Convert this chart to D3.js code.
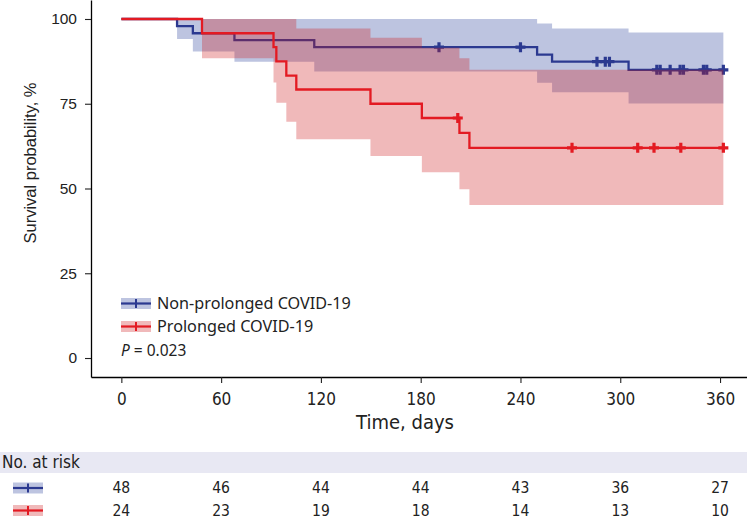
<!DOCTYPE html>
<html><head><meta charset="utf-8">
<script src="https://cdn.jsdelivr.net/npm/d3@7"></script>
<style>body{margin:0;background:#fff}</style>
</head><body><svg id="c" width="747" height="519"></svg>
<script>
// ---- data ----
const groupNames = ["Non-prolonged COVID-19", "Prolonged COVID-19"];
// Non-prolonged: step times, survival (%), CI
const nonTimes = [0, 33.5, 43, 68, 116, 250, 259, 305];
const nonSurv  = [100, 97.9, 95.8, 93.75, 91.7, 89.5, 87.4, 85.0];
const nonUpper = [100, 100, 100, 100, 100, 98.7, 97.2, 96.0];
const nonLower = [100, 94.1, 90.4, 87.4, 84.5, 81.2, 78.4, 75.1];
const nonEnd = 362;
const nonCensor = [191, 240, 286, 291, 293.5, 322, 324, 330, 336, 338, 350, 352, 362];
// Prolonged
const proTimes = [0, 48.5, 91.5, 93.2, 99.2, 105.2, 149.8, 180.7, 203.3, 209.3];
const proSurv  = [100, 95.8, 91.7, 87.5, 83.3, 79.2, 75.0, 70.8, 66.4, 62.0];
const proUpper = [100, 100, 100, 100, 100, 97.2, 94.5, 91.5, 88.4, 85.0];
const proLower = [100, 88.4, 81.3, 75.3, 69.7, 64.5, 59.6, 54.8, 49.8, 45.1];
const proEnd = 362;
const proCensor = [202.3, 271, 310.5, 320.3, 336.4, 362];
// Axes / risk table
const xTicks = [0, 60, 120, 180, 240, 300, 360];
const yTicks = [0, 25, 50, 75, 100];
const riskNon = [48, 46, 44, 44, 43, 36, 27];
const riskPro = [24, 23, 19, 18, 14, 13, 10];
const pText = "0.023";

// ---- styles ----
const blueLine = "#2b3990", redLine = "#e31a22";
const blueFill = "#263a98", redFill = "#cd1619", fillOp = 0.3;
const narrow = "'Liberation Sans Narrow','DejaVu Sans Condensed','Roboto',sans-serif";
const sans = "'Liberation Sans',Arial,sans-serif";
const noto = "'Noto Sans','Open Sans',sans-serif";

const svg = d3.select("#c");
const x = d3.scaleLinear().domain([-18.25, 383.25]).range([91, 758.7]);
const y = d3.scaleLinear().domain([-5.6, 105.6]).range([377, 0]);

function build(times, surv, lo, hi, end) {
  const pts = times.map((t, i) => ({t, s: surv[i], lo: lo[i], hi: hi[i]}));
  const last = pts[pts.length - 1];
  pts.push({t: end, s: last.s, lo: last.lo, hi: last.hi});
  return pts;
}
function survAt(times, surv, t) {
  let s = surv[0];
  times.forEach((tt, i) => { if (tt <= t) s = surv[i]; });
  return s;
}
const area = d3.area().curve(d3.curveStepAfter).x(d => x(d.t)).y0(d => y(d.lo)).y1(d => y(d.hi));
const line = d3.line().curve(d3.curveStepAfter).x(d => x(d.t)).y(d => y(d.s));
const plus = "M-5,0H5M0,-5V5";

const series = [
  {pts: build(nonTimes, nonSurv, nonLower, nonUpper, nonEnd), fill: blueFill, col: blueLine,
   cens: nonCensor.map(t => ({t, s: survAt(nonTimes, nonSurv, t)}))},
  {pts: build(proTimes, proSurv, proLower, proUpper, proEnd), fill: redFill, col: redLine,
   cens: proCensor.map(t => ({t, s: survAt(proTimes, proSurv, t)}))}
];

series.forEach(sr => {
  svg.append("path").attr("d", area(sr.pts)).attr("fill", sr.fill).attr("fill-opacity", fillOp);
  svg.append("path").attr("d", line(sr.pts)).attr("fill", "none").attr("stroke", sr.col).attr("stroke-width", 2.3);
  svg.selectAll(null).data(sr.cens).enter().append("path")
    .attr("d", plus).attr("transform", d => `translate(${x(d.t)},${y(d.s)})`)
    .attr("stroke", sr.col).attr("stroke-width", 3.2).attr("fill", "none");
});

// axes
const gy = svg.append("g").attr("transform", "translate(91,0)")
  .call(d3.axisLeft(y).tickValues(yTicks).tickSize(6).tickSizeOuter(0).tickPadding(8));
const gx = svg.append("g").attr("transform", "translate(0,377)")
  .call(d3.axisBottom(x).tickValues(xTicks).tickSize(6).tickSizeOuter(0).tickPadding(10));
[gy, gx].forEach(g => {
  g.select(".domain").attr("stroke", "#000").attr("stroke-width", 1.3);
  g.selectAll(".tick line").attr("stroke", "#222").attr("stroke-width", 1.1);
});
gy.selectAll("text").attr("font-family", sans).attr("font-size", 15.5).attr("fill", "#222");
gx.selectAll("text").attr("font-family", narrow).attr("font-size", 17).attr("fill", "#222");

svg.append("text").attr("transform", "translate(36,163) rotate(-90)").attr("text-anchor", "middle")
  .attr("font-family", sans).attr("font-size", 16.5).attr("fill", "#222").text("Survival probability, %");
svg.append("text").attr("x", 405).attr("y", 429).attr("text-anchor", "middle")
  .attr("font-family", narrow).attr("font-size", 20).attr("fill", "#222").text("Time, days");

// legend
function key(g, cx, cy, fill, col) {
  g.append("rect").attr("x", cx - 15).attr("y", cy - 5.5).attr("width", 30).attr("height", 11)
    .attr("fill", fill).attr("fill-opacity", fillOp);
  g.append("line").attr("x1", cx - 15).attr("x2", cx + 15).attr("y1", cy).attr("y2", cy)
    .attr("stroke", col).attr("stroke-width", 2.2);
  g.append("line").attr("x1", cx).attr("x2", cx).attr("y1", cy - 4.5).attr("y2", cy + 4.5)
    .attr("stroke", col).attr("stroke-width", 2);
}
const leg = svg.append("g");
[[303.5, 0], [326.5, 1]].forEach(([cy, i]) => {
  key(leg, 136, cy, series[i].fill, series[i].col);
  leg.append("text").attr("x", 157).attr("y", cy).attr("dy", "0.35em")
    .attr("font-family", noto).attr("font-size", 16.2).attr("fill", "#222").text(groupNames[i]);
});
const pt = svg.append("text").attr("x", 121).attr("y", 351).attr("dy", "0.35em")
  .attr("font-family", noto).attr("font-size", 15.5).attr("fill", "#222");
pt.append("tspan").attr("font-style", "italic").text("P");
pt.append("tspan").text(" = " + pText);

// risk table
svg.append("rect").attr("x", 0).attr("y", 452).attr("width", 747).attr("height", 21).attr("fill", "#e8e8f3");
svg.append("text").attr("x", 2).attr("y", 462.5).attr("dy", "0.35em")
  .attr("font-family", narrow).attr("font-size", 17).attr("fill", "#222").text("No. at risk");
[[488, riskNon, 0], [510.5, riskPro, 1]].forEach(([cy, arr, i]) => {
  key(svg, 28, cy, series[i].fill, series[i].col);
  svg.selectAll(null).data(arr).enter().append("text")
    .attr("x", (d, j) => x(xTicks[j])).attr("y", cy).attr("dy", "0.35em").attr("text-anchor", "middle")
    .attr("font-family", narrow).attr("font-size", 15.5).attr("fill", "#222").text(d => d);
});
</script></body></html>
